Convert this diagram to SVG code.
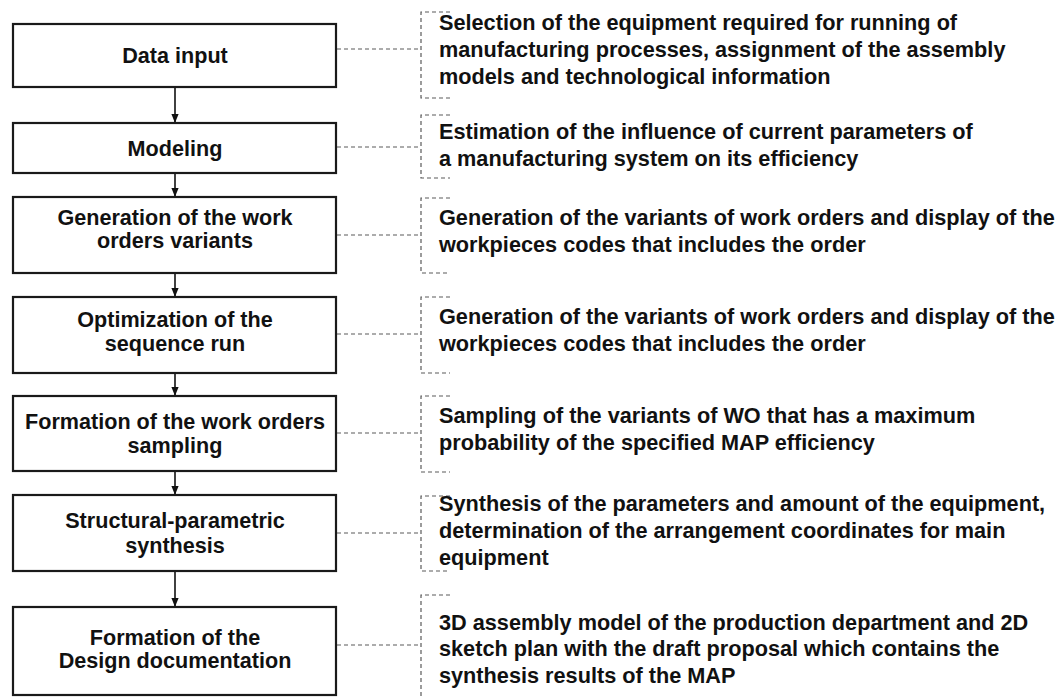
<svg xmlns="http://www.w3.org/2000/svg" width="1059" height="697" viewBox="0 0 1059 697">
<defs>
<marker id="ah" viewBox="0 0 10 10" refX="10" refY="5" markerWidth="9" markerHeight="9" markerUnits="userSpaceOnUse" orient="auto">
<path d="M0,1 L10,5 L0,9 z" fill="#111"/>
</marker>
<style>
.box{fill:#fff;stroke:#1a1a1a;stroke-width:2.2}
.bt{font-family:"Liberation Sans",Arial,sans-serif;font-weight:bold;font-size:21.6px;fill:#111;text-anchor:middle}
.rt{font-family:"Liberation Sans",Arial,sans-serif;font-weight:bold;font-size:21.7px;fill:#111}
.dash{fill:none;stroke:#5a5a5a;stroke-width:1.2;stroke-dasharray:4 3}
.arr{stroke:#111;stroke-width:1.6;fill:none}
</style>
</defs>
<rect width="1059" height="697" fill="#fff"/>
<g id="connectors">
<line class="arr" x1="175" y1="87" x2="175" y2="123" marker-end="url(#ah)"/>
<line class="arr" x1="175" y1="173" x2="175" y2="197" marker-end="url(#ah)"/>
<line class="arr" x1="175" y1="273" x2="175" y2="297" marker-end="url(#ah)"/>
<line class="arr" x1="175" y1="373" x2="175" y2="396" marker-end="url(#ah)"/>
<line class="arr" x1="175" y1="471" x2="175" y2="495" marker-end="url(#ah)"/>
<line class="arr" x1="175" y1="571" x2="175" y2="607" marker-end="url(#ah)"/>
<line class="dash" x1="337" y1="49" x2="421" y2="49"/>
<line class="dash" x1="337" y1="147" x2="421" y2="147"/>
<line class="dash" x1="337" y1="235" x2="421" y2="235"/>
<line class="dash" x1="337" y1="334" x2="421" y2="334"/>
<line class="dash" x1="337" y1="433" x2="421" y2="433"/>
<line class="dash" x1="337" y1="533" x2="421" y2="533"/>
<line class="dash" x1="337" y1="645" x2="421" y2="645"/>
</g>
<g id="n1">
<rect class="box" x="13" y="24" width="323" height="63"/>
<text class="bt" x="175" y="63">Data input</text>
</g>
<g id="n2">
<rect class="box" x="13" y="123" width="323" height="50"/>
<text class="bt" x="175" y="156">Modeling</text>
</g>
<g id="n3">
<rect class="box" x="13" y="197" width="323" height="76"/>
<text class="bt" x="175" y="225">Generation of the work</text>
<text class="bt" x="175" y="248">orders variants</text>
</g>
<g id="n4">
<rect class="box" x="13" y="297" width="323" height="76"/>
<text class="bt" x="175" y="327">Optimization of the</text>
<text class="bt" x="175" y="351">sequence run</text>
</g>
<g id="n5">
<rect class="box" x="13" y="396" width="323" height="75"/>
<text class="bt" x="175" y="429">Formation of the work orders</text>
<text class="bt" x="175" y="453">sampling</text>
</g>
<g id="n6">
<rect class="box" x="13" y="495" width="323" height="76"/>
<text class="bt" x="175" y="528">Structural-parametric</text>
<text class="bt" x="175" y="553">synthesis</text>
</g>
<g id="n7">
<rect class="box" x="13" y="607" width="323" height="88"/>
<text class="bt" x="175" y="645">Formation of the</text>
<text class="bt" x="175" y="668">Design documentation</text>
</g>
<g id="d1">
<path class="dash" d="M450,12 H421 V98 H450"/>
<text class="rt" x="439" y="30">Selection of the equipment required for running of</text>
<text class="rt" x="439" y="57">manufacturing processes, assignment of the assembly</text>
<text class="rt" x="439" y="84">models and technological information</text>
</g>
<g id="d2">
<path class="dash" d="M450,115 H421 V178 H450"/>
<text class="rt" x="439" y="139">Estimation of the influence of current parameters of</text>
<text class="rt" x="439" y="166">a manufacturing system on its efficiency</text>
</g>
<g id="d3">
<path class="dash" d="M450,198 H421 V273 H450"/>
<text class="rt" x="439" y="225">Generation of the variants of work orders and display of the</text>
<text class="rt" x="439" y="252">workpieces codes that includes the order</text>
</g>
<g id="d4">
<path class="dash" d="M450,297 H421 V373 H450"/>
<text class="rt" x="439" y="324">Generation of the variants of work orders and display of the</text>
<text class="rt" x="439" y="351">workpieces codes that includes the order</text>
</g>
<g id="d5">
<path class="dash" d="M450,396 H421 V472 H450"/>
<text class="rt" x="439" y="423">Sampling of the variants of WO that has a maximum</text>
<text class="rt" x="439" y="450">probability of the specified MAP efficiency</text>
</g>
<g id="d6">
<path class="dash" d="M450,496 H421 V571 H450"/>
<text class="rt" x="439" y="511">Synthesis of the parameters and amount of the equipment,</text>
<text class="rt" x="439" y="538">determination of the arrangement coordinates for main</text>
<text class="rt" x="439" y="565">equipment</text>
</g>
<g id="d7">
<path class="dash" d="M450,595 H421 V700"/>
<text class="rt" x="439" y="630">3D assembly model of the production department and 2D</text>
<text class="rt" x="439" y="656">sketch plan with the draft proposal which contains the</text>
<text class="rt" x="439" y="683">synthesis results of the MAP</text>
</g>
</svg>
